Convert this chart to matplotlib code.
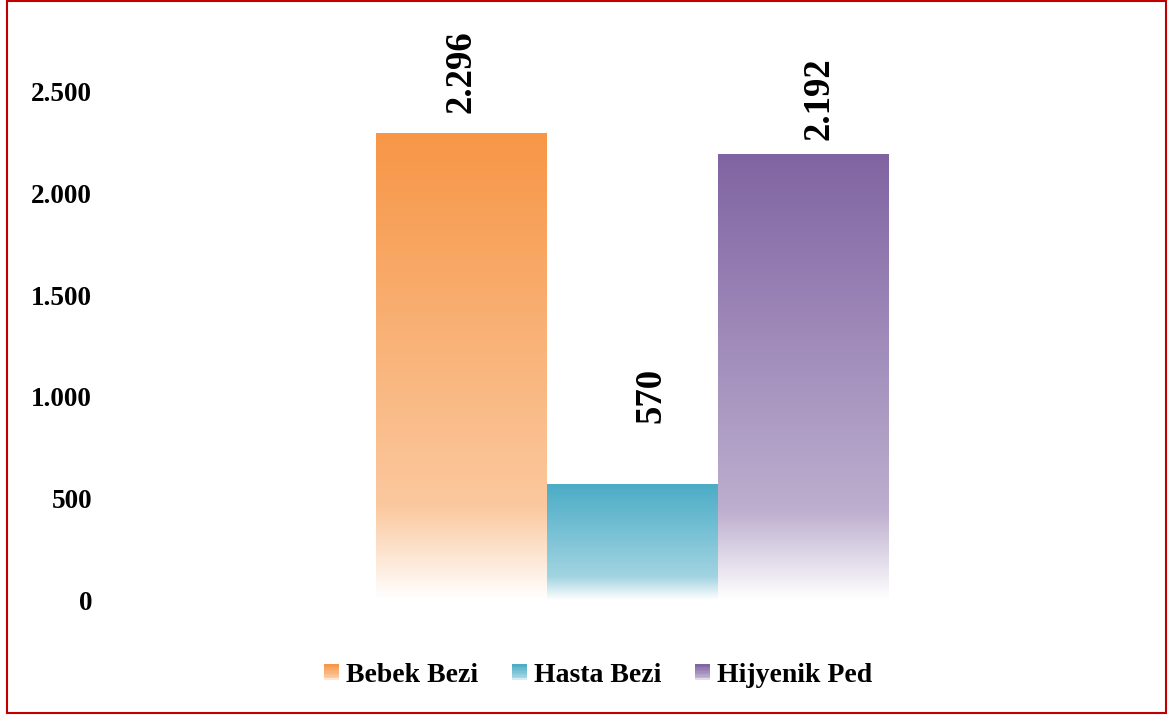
import matplotlib
matplotlib.use("Agg")
import matplotlib.pyplot as plt
import numpy as np
from matplotlib.patches import Rectangle, Patch
from matplotlib.legend_handler import HandlerBase
from matplotlib.ticker import FuncFormatter
import matplotlib.colors as mcolors

# ---- data ----
categories = ["Bebek Bezi", "Hasta Bezi", "Hijyenik Ped"]
values = [2296, 570, 2192]
labels = ["2.296", "570", "2.192"]
colors = ["#F79646", "#4BACC6", "#8064A2"]
yticks = [0, 500, 1000, 1500, 2000, 2500]

# ---- styling ----
label_offsets_pt = [(0, 14.4), (13.3, 44), (11.5, 10.8)]
FONT = "Liberation Serif"
W, H = 1168, 716

fig = plt.figure(figsize=(W / 100, H / 100), dpi=100)
ax_left, ax_right = 115, 1150
ax_bottom, ax_top = 600, 31
ax = fig.add_axes([ax_left / W, 1 - ax_bottom / H, (ax_right - ax_left) / W, (ax_bottom - ax_top) / H])

# x mapping: data 1 at pixel 632.5, 171 px per unit
px_per = 171.0
xmin = (ax_left - 632.5) / px_per + 1
xmax = (ax_right - 632.5) / px_per + 1


def fade_weights(n):
    t = np.linspace(0, 1, n)
    w = np.where(t < 0.8, 0.6 * t, 0.48 + (t - 0.8) / 0.2 * 0.52)
    return t, np.clip(w, 0, 1)


def gradient_image(color, n=256):
    rgb = np.array(mcolors.to_rgb(color))
    _, w = fade_weights(n)
    img = rgb[None, :] * (1 - w[:, None]) + w[:, None] * 1.0
    return img[:, None, :]


x = np.arange(len(categories))
bars = ax.bar(x, values, width=1.0, color="none", edgecolor="none")
for rect, c in zip(bars, colors):
    l = rect.get_x()
    r = l + rect.get_width()
    h = rect.get_height()
    ax.imshow(gradient_image(c), extent=(l, r, 0, h), aspect="auto",
              origin="upper", zorder=2, interpolation="bilinear")

for i, (v, lab) in enumerate(zip(values, labels)):
    dx, dy = label_offsets_pt[i]
    ax.annotate(lab, xy=(x[i], v), xytext=(dx, dy), textcoords="offset points",
                ha="center", va="bottom", rotation=90,
                fontsize=26.5, fontweight="bold", fontfamily=FONT, color="black")

ax.set_xlim(xmin, xmax)
ax.set_ylim(0, 2800)
ax.set_yticks(yticks)
ax.yaxis.set_major_formatter(FuncFormatter(lambda v, p: f"{int(v):,}".replace(",", ".")))
ax.set_xticks([])
ax.tick_params(axis="y", length=0, pad=16.5)
for lab in ax.get_yticklabels():
    lab.set_fontfamily(FONT)
    lab.set_fontweight("bold")
    lab.set_fontsize(19.5)
for s in ax.spines.values():
    s.set_visible(False)
ax.patch.set_alpha(0)


class GradientHandler(HandlerBase):
    def create_artists(self, legend, orig_handle, xdescent, ydescent, width, height, fontsize, trans):
        c = orig_handle.get_facecolor()
        rgb = np.array(c[:3])
        n = 12
        _, w = fade_weights(n)
        arts = []
        for k in range(n):
            col = rgb * (1 - w[k]) + w[k]
            y0 = -ydescent + height * (1 - (k + 1) / n)
            r = Rectangle((-xdescent, y0), width, height / n + 0.05,
                          facecolor=col, edgecolor="none", transform=trans)
            arts.append(r)
        return arts


handles = [Patch(facecolor=c, label=cat) for c, cat in zip(colors, categories)]
fig.legend(handles=handles, loc="center", bbox_to_anchor=(0.512, 1 - 676 / H),
           ncol=3, frameon=False, handler_map={Patch: GradientHandler()},
           prop={"family": FONT, "weight": "bold", "size": 20},
           handlelength=0.55, handleheight=0.55, handletextpad=0.25, columnspacing=1.2)

# red border
fig.patches.append(Rectangle((7 / W, 1 - 713 / H), (1166 - 7) / W, (713 - 1) / H,
                             transform=fig.transFigure, fill=False,
                             edgecolor="#C00000", linewidth=1.5))

fig.savefig("out.png", dpi=100)
